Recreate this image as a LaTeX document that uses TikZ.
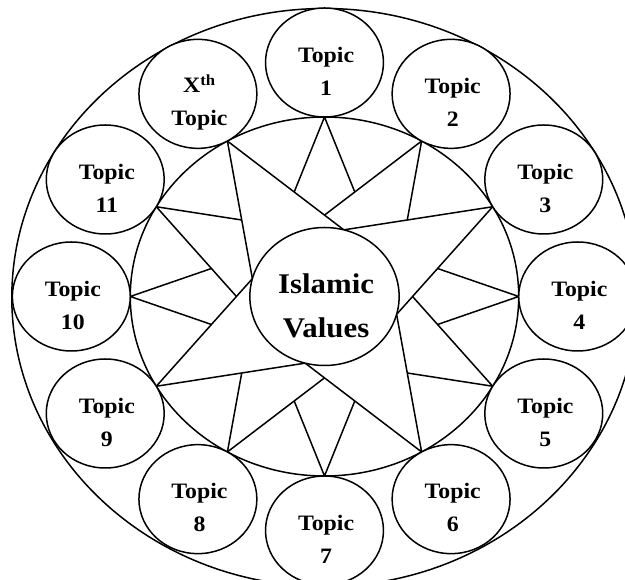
\documentclass[tikz,border=0pt]{standalone}
\usepackage{fontspec}
\setmainfont{Liberation Serif}
\begin{document}
\begin{tikzpicture}[x=1pt,y=1pt,line width=1.5pt,
  topic/.style={circle,draw,fill=white,minimum size=109pt,inner sep=0pt},
  lbl/.style={align=center,font=\bfseries\fontsize{22}{33}\selectfont,inner sep=0pt},
  bigl/.style={align=center,font=\bfseries\fontsize{28.5}{44}\selectfont,inner sep=0pt},
  starshape/.style={draw,fill=white,line join=miter}]
\useasboundingbox (-324.5,-283.5) rectangle (300.5,296.5);
\begin{scope}[xscale=1.082,transform shape]
% outer and inner rings
\draw (0,-1) circle (289);
\draw (0,0) circle (179.5);
% three four-pointed stars, bottom to top
\foreach \p in {0,60,30}{
  \draw[starshape] (\p:179.5) -- (\p+45:69) -- (\p+90:179.5) -- (\p+135:69)
     -- (\p+180:179.5) -- (\p+225:69) -- (\p+270:179.5) -- (\p+315:69) -- cycle;
}
% centre
\node[circle,draw,fill=white,minimum size=138pt,inner sep=0pt] (c) at (0,0) {};
\node[bigl] (cl) at (1.5,-9.5) {Islamic\\Values};
% topic circles
\node[topic] (t1) at (90:234) {};
\node[topic] (t2) at (60:234) {};
\node[topic] (t3) at (30:234) {};
\node[topic] (t4) at (0:234) {};
\node[topic] (t5) at (-30:234) {};
\node[topic] (t6) at (-60:234) {};
\node[topic] (t7) at (-90:234) {};
\node[topic] (t8) at (-120:234) {};
\node[topic] (t9) at (-150:234) {};
\node[topic] (t10) at (180:234) {};
\node[topic] (t11) at (150:234) {};
\node[topic] (tx) at (120:234) {};
% labels
\node[lbl] (l1) at ([shift={(1.5,-8.5)}]t1.center) {Topic\\1};
\node[lbl] (l2) at ([shift={(1.5,-8.5)}]t2.center) {Topic\\2};
\node[lbl] (l3) at ([shift={(1.5,-8.5)}]t3.center) {Topic\\3};
\node[lbl] (l4) at ([shift={(1.5,-8.5)}]t4.center) {Topic\\4};
\node[lbl] (l5) at ([shift={(1.5,-8.5)}]t5.center) {Topic\\5};
\node[lbl] (l6) at ([shift={(1.5,-8.5)}]t6.center) {Topic\\6};
\node[lbl] (l7) at ([shift={(1.5,-8.5)}]t7.center) {Topic\\7};
\node[lbl] (l8) at ([shift={(1.5,-8.5)}]t8.center) {Topic\\8};
\node[lbl] (l9) at ([shift={(1.5,-8.5)}]t9.center) {Topic\\9};
\node[lbl] (l10) at ([shift={(1.5,-8.5)}]t10.center) {Topic\\10};
\node[lbl] (l11) at ([shift={(1.5,-8.5)}]t11.center) {Topic\\11};
\node[lbl] (lx) at ([shift={(1.5,-8.5)}]tx.center) {X\textsuperscript{th}\\Topic};
\end{scope}
\end{tikzpicture}
\end{document}
